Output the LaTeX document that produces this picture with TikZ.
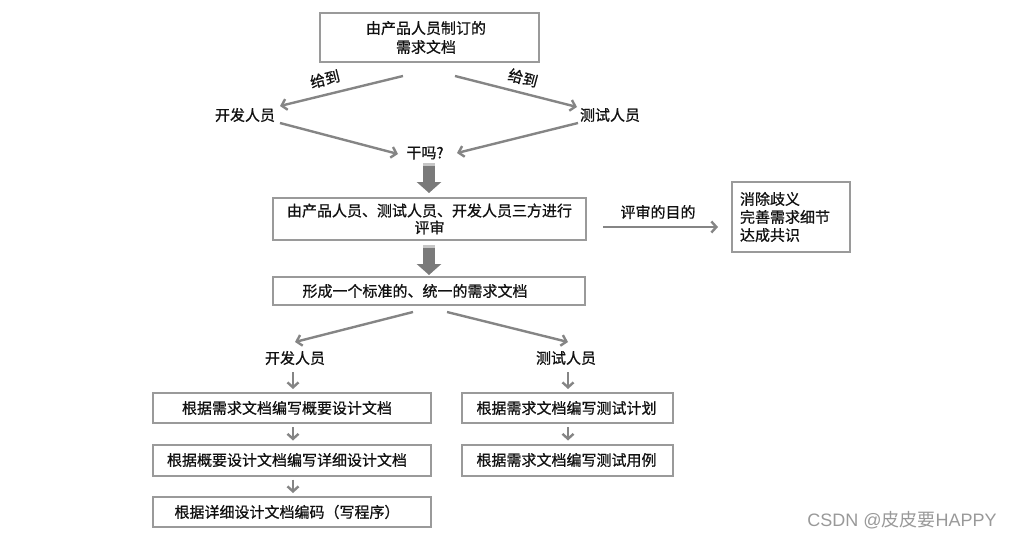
\documentclass[tikz,border=0pt]{standalone}
\usepackage{fontspec}
\setmainfont{Noto Sans CJK SC}[FakeBold=0.8]
\newfontfamily\wmcjk{Noto Sans CJK SC}
\newfontfamily\wmlat{Liberation Sans}
\usetikzlibrary{arrows.meta}
\definecolor{linegray}{HTML}{858585}
\definecolor{boxgray}{HTML}{9A9A9A}
\definecolor{blockgray}{HTML}{7A7A7A}
\definecolor{txt}{HTML}{111111}
\newcommand{\rpad}[1]{\hspace*{#1}}
\tikzset{
  box/.style={draw=boxgray, line width=2pt, fill=white, text=txt, align=center, inner sep=0pt},
  lbl/.style={text=txt, inner sep=1pt},
  conn/.style={draw=linegray, line width=2.4pt, -{Straight Barb[length=5pt,width=11pt]}},
  block/.style={draw=blockgray, line width=12pt, -{Triangle[length=11pt,width=24pt]}},
}
\begin{document}
\begin{tikzpicture}[x=1pt,y=-1pt, font=\fontsize{15}{19}\selectfont]
\useasboundingbox (0,0) rectangle (1013,538);
% top
\node[box, minimum width=219pt, minimum height=49pt] (top) at (429.5,37.5) {由产品人员制订的\rpad{7pt}\\需求文档\rpad{7pt}};
\node[lbl] (dev1) at (245,115) {开发人员};
\node[lbl] (test1) at (610,115) {测试人员};
\node[lbl] (why) at (425,153) {干吗?};
\node[lbl, inner sep=0pt, rotate=14] (give1) at (325,79) {给到};
\node[lbl, inner sep=0pt, rotate=-15] (give2) at (523,78) {给到};
\coordinate (a1s) at (403,76); \coordinate (a1e) at (280,106);
\coordinate (a2s) at (455,76); \coordinate (a2e) at (577,107);
\coordinate (a3s) at (280,123); \coordinate (a3e) at (398,154);
\coordinate (a4s) at (578,123); \coordinate (a4e) at (457,153);
\draw[conn] (a1s) -- (a1e);
\draw[conn] (a2s) -- (a2e);
\draw[conn] (a3s) -- (a3e);
\draw[conn] (a4s) -- (a4e);
% review
\node[box, minimum width=313pt, minimum height=42pt, font=\fontsize{15}{17}\selectfont] (review) at (429.5,219) {由产品人员、测试人员、开发人员三方进行\\评审};
\node[box, minimum width=118pt, minimum height=70pt, text width=102pt, align=left, font=\fontsize{15}{18}\selectfont] (purpose) at (791,217) {消除歧义\\完善需求细节\\达成共识};
\node[lbl] (plabel) at (658,212) {评审的目的};
\coordinate (c1s) at (603,227); \coordinate (c1e) at (718,227);
\draw[conn] (c1s) -- (c1e);
\coordinate (k1s) at (429,163); \coordinate (k1e) at (429,193);
\draw[block] (k1s) -- (k1e);
\fill[gray!45] (423,163) rectangle (435,166);
% standard
\node[box, minimum width=312pt, minimum height=28pt] (std) at (429,291) {形成一个标准的、统一的需求文档\rpad{28pt}};
\coordinate (k2s) at (429,245); \coordinate (k2e) at (429,275);
\draw[block] (k2s) -- (k2e);
\fill[gray!45] (423,245) rectangle (435,248);
\node[lbl] (dev2) at (295,358) {开发人员};
\node[lbl] (test2) at (566,358) {测试人员};
\coordinate (b1s) at (413,312); \coordinate (b1e) at (295,342);
\coordinate (b2s) at (447,312); \coordinate (b2e) at (568,342);
\draw[conn] (b1s) -- (b1e);
\draw[conn] (b2s) -- (b2e);
% left column
\node[box, minimum width=278pt, minimum height=30pt] (L1) at (292,408) {根据需求文档编写概要设计文档\rpad{10pt}};
\node[box, minimum width=278pt, minimum height=31pt] (L2) at (292,460) {根据概要设计文档编写详细设计文档\rpad{10pt}};
\node[box, minimum width=278pt, minimum height=30pt] (L3) at (292,512) {根据详细设计文档编码（写程序）\rpad{10pt}};
% right column
\node[box, minimum width=211pt, minimum height=30pt] (R1) at (567.5,408) {根据需求文档编写测试计划\rpad{2pt}};
\node[box, minimum width=211pt, minimum height=31pt] (R2) at (567.5,460) {根据需求文档编写测试用例\rpad{2pt}};
\draw[conn, shorten <=6pt, shorten >=3pt] (dev2.south -| 293,0) -- (L1.north -| 293,0);
\draw[conn, shorten <=3pt, shorten >=3pt] (L1.south -| 293,0) -- (L2.north -| 293,0);
\draw[conn, shorten <=3pt, shorten >=3pt] (L2.south -| 293,0) -- (L3.north -| 293,0);
\draw[conn, shorten <=6pt, shorten >=3pt] (test2.south -| 568,0) -- (R1.north -| 568,0);
\draw[conn, shorten <=3pt, shorten >=3pt] (R1.south -| 568,0) -- (R2.north -| 568,0);
% watermark
\node[text=gray!80, inner sep=0pt, font=\fontsize{18}{20}\selectfont] (wm) at (902,520) {\wmlat CSDN @\wmcjk 皮皮要\wmlat HAPPY};
\end{tikzpicture}
\end{document}
